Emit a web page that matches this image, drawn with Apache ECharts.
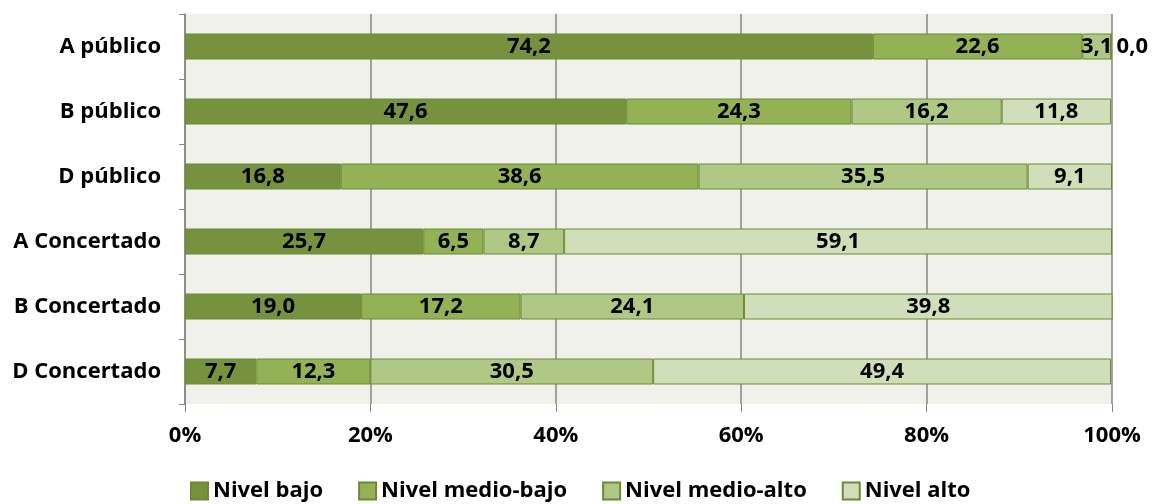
<!DOCTYPE html>
<html>
<head>
<meta charset="utf-8">
<script src="https://cdn.jsdelivr.net/npm/echarts@6/dist/echarts.min.js"></script>
<style>
  html, body { margin: 0; padding: 0; background: #fff; }
  #container { width: 1162px; height: 504px; }
</style>
</head>
<body>
<div id="container"></div>
<script>
// categorias (de arriba a abajo)
var categorias = ['A público', 'B público', 'D público', 'A Concertado', 'B Concertado', 'D Concertado'];
var nivelBajo = [74.2, 47.6, 16.8, 25.7, 19.0, 7.7];
var nivelMedioBajo = [22.6, 24.3, 38.6, 6.5, 17.2, 12.3];
var nivelMedioAlto = [3.1, 16.2, 35.5, 8.7, 24.1, 30.5];
var nivelAlto = [0.0, 11.8, 9.1, 59.1, 39.8, 49.4];
var nombres = ['Nivel bajo', 'Nivel medio-bajo', 'Nivel medio-alto', 'Nivel alto'];
var colores = ['#77923f', '#93b255', '#afc886', '#d1deba'];

var fuente = '"Open Sans", "DejaVu Sans", sans-serif';

function serie(nombre, datos, color) {
    return {
        name: nombre,
        type: 'bar',
        stack: 'total',
        barWidth: 26,
        data: datos.map(function (v) {
            var d = { value: v };
            if (v === 0) {
                d.label = { position: 'right', offset: [0, 0] };
            }
            return d;
        }),
        itemStyle: { color: color, borderColor: '#6d8a33', borderWidth: 1 },
        label: {
            show: true,
            position: 'inside',
            color: '#000',
            fontFamily: fuente,
            fontWeight: 'bold',
            fontSize: 22,
            formatter: function (p) { return p.value.toFixed(1).replace('.', ','); }
        }
    };
}

var dom = document.getElementById("container");
var myChart = echarts.init(dom);
var option = {
    animation: false,
    grid: {
        left: 185, right: 50, top: 14, bottom: 100,
        show: true, backgroundColor: '#eff1ea', borderWidth: 0
    },
    legend: {
        top: 480,
        left: 190,
        icon: 'rect',
        itemWidth: 17,
        itemHeight: 17,
        itemGap: 35,
        padding: 0,
        textStyle: { fontFamily: fuente, fontWeight: 'bold', fontSize: 22, color: '#000' },
        data: nombres
    },
    xAxis: {
        type: 'value',
        min: 0, max: 100, interval: 20,
        axisLine: { show: false },
        axisTick: { show: true, length: 8, lineStyle: { color: '#868686' } },
        splitLine: { show: true, lineStyle: { color: '#868686', width: 1.5 } },
        axisLabel: {
            margin: 21,
            color: '#000', fontFamily: fuente, fontWeight: 'bold', fontSize: 22,
            formatter: '{value}%'
        }
    },
    yAxis: {
        type: 'category',
        inverse: true,
        data: categorias,
        axisLine: { show: true, lineStyle: { color: '#868686', width: 1.5 } },
        axisTick: { show: true, length: 6, lineStyle: { color: '#868686' } },
        axisLabel: {
            margin: 24,
            color: '#000', fontFamily: fuente, fontWeight: 'bold', fontSize: 22
        }
    },
    series: [
        serie(nombres[0], nivelBajo, colores[0]),
        serie(nombres[1], nivelMedioBajo, colores[1]),
        serie(nombres[2], nivelMedioAlto, colores[2]),
        serie(nombres[3], nivelAlto, colores[3])
    ]
};

if (option && typeof option === 'object') {
    myChart.setOption(option);
}
</script>
</body>
</html>
